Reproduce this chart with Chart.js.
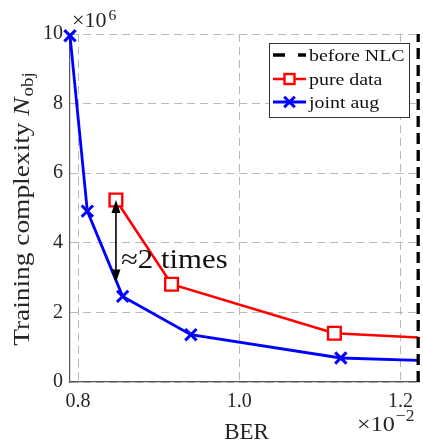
<!DOCTYPE html>
<html>
<head>
<meta charset="utf-8">
<script src="https://cdn.jsdelivr.net/npm/chart.js@4.4.1/dist/chart.umd.min.js"></script>
<style>
  html, body { margin: 0; padding: 0; background: #fff; }
  #wrap { width: 423px; height: 446px; position: relative; }
</style>
</head>
<body>
<div id="wrap"><canvas id="c" width="423" height="446"></canvas></div>
<script>
// BER values (raw) and training complexity (number of objects)
const berJoint = [0.0079, 0.008115, 0.008553, 0.00940, 0.01126, 0.01222];
const nJoint   = [9.95e6, 4.91e6, 2.46e6, 1.36e6, 0.69e6, 0.62e6];
const berPure  = [0.00847, 0.00916, 0.01118, 0.01222];
const nPure    = [5.23e6, 2.81e6, 1.40e6, 1.28e6];
const berBeforeNLC = 0.01222;
const xTicks = [0.008, 0.010, 0.012];
const yTicks = [0, 2e6, 4e6, 6e6, 8e6, 10e6];
const seriesLabels = ['before NLC', 'pure data', 'joint aug'];
// Annotation: gap between the two curves around BER 0.85e-2
const arrowBer = 0.00847;
const arrowFrom = 5.23e6;
const arrowTo = 2.86e6;
const arrowText = '\u22482 times';

const SERIF = '"Liberation Serif", "DejaVu Serif", serif';
const GRID = '#b8b8b8';
const TXT = '#262626';

const toXY = (xs, ys) => xs.map((x, i) => ({ x, y: ys[i] }));

// draw text stretched horizontally so the wide serif look is kept
function wideText(ctx, s, x, y, sx) {
  ctx.save();
  ctx.translate(x, y);
  ctx.scale(sx, 1);
  ctx.fillText(s, 0, 0);
  ctx.restore();
  return ctx.measureText(s).width * sx;
}

const annotate = {
  id: 'annotate',
  afterDatasetsDraw(chart) {
    const { ctx, chartArea: a, scales: { x, y } } = chart;
    ctx.save();
    // double-headed arrow
    const ax = x.getPixelForValue(arrowBer);
    const y1 = y.getPixelForValue(arrowFrom);
    const y2 = y.getPixelForValue(arrowTo);
    const head = 13, hw = 4.5;
    ctx.strokeStyle = '#000'; ctx.fillStyle = '#000'; ctx.lineWidth = 1.6;
    ctx.beginPath(); ctx.moveTo(ax, y1 + head - 2); ctx.lineTo(ax, y2 - head + 2); ctx.stroke();
    ctx.beginPath(); ctx.moveTo(ax, y1); ctx.lineTo(ax - hw, y1 + head); ctx.lineTo(ax + hw, y1 + head); ctx.closePath(); ctx.fill();
    ctx.beginPath(); ctx.moveTo(ax, y2); ctx.lineTo(ax - hw, y2 - head); ctx.lineTo(ax + hw, y2 - head); ctx.closePath(); ctx.fill();
    ctx.fillStyle = '#111';
    ctx.font = '27px ' + SERIF;
    ctx.textAlign = 'left'; ctx.textBaseline = 'alphabetic';
    wideText(ctx, arrowText, ax + 5, (y1 + y2) / 2 + 27, 1.14);

    // legend
    const lx = 269, ly = 43, lw = 140, lh = 74;
    ctx.fillStyle = '#fff';
    ctx.fillRect(lx, ly, lw, lh);
    ctx.strokeStyle = '#333'; ctx.lineWidth = 1;
    ctx.strokeRect(lx + 0.5, ly + 0.5, lw, lh);
    const rows = [55, 79, 102];
    chart.data.datasets.forEach((ds, i) => {
      const ry = rows[i];
      ctx.strokeStyle = ds.borderColor; ctx.lineWidth = ds.borderWidth;
      ctx.setLineDash(i === 0 ? [12, 13] : []);
      ctx.beginPath(); ctx.moveTo(273, ry); ctx.lineTo(306, ry); ctx.stroke();
      ctx.setLineDash([]);
      if (ds.pointStyle === 'rect') {
        ctx.fillStyle = '#fff'; ctx.strokeStyle = ds.borderColor; ctx.lineWidth = ds.pointBorderWidth;
        ctx.fillRect(284.5, ry - 5, 10, 10); ctx.strokeRect(284.5, ry - 5, 10, 10);
      } else if (ds.pointStyle) {
        ctx.strokeStyle = ds.borderColor; ctx.lineWidth = ds.pointBorderWidth;
        Chart.helpers.drawPoint(ctx, { pointStyle: ds.pointStyle, rotation: 0, radius: 7.5, borderWidth: ds.pointBorderWidth }, 289.5, ry);
      }
      ctx.fillStyle = '#111';
      ctx.font = '17px ' + SERIF;
      ctx.textBaseline = 'alphabetic';
      wideText(ctx, ds.label, 309, ry + 5.5, 1.17);
    });

    // axis titles and exponent notes
    ctx.fillStyle = TXT;
    ctx.textBaseline = 'alphabetic';
    ctx.font = '23px ' + SERIF;
    ctx.textAlign = 'center';
    ctx.fillText('BER', 246.5, 439);

    // ×10^-2
    ctx.textAlign = 'left';
    ctx.font = '22px ' + SERIF;
    let sx = 357;
    sx += wideText(ctx, '\u00d710', sx, 431, 1.1);
    ctx.font = '16px ' + SERIF;
    wideText(ctx, '\u22122', sx + 1, 421, 1.1);

    // ×10^6
    ctx.font = '21px ' + SERIF;
    sx = 72;
    sx += wideText(ctx, '\u00d710', sx, 27, 1.05);
    ctx.font = '15px ' + SERIF;
    wideText(ctx, '6', sx + 2, 20, 1.05);

    // y title: Training complexity N_obj
    ctx.translate(29, (a.top + a.bottom) / 2 + 1);
    ctx.rotate(-Math.PI / 2);
    const st = 1.19;
    const p1 = 'Training complexity ', p2 = 'N', p3 = 'obj';
    ctx.font = '23px ' + SERIF; const w1 = ctx.measureText(p1).width * st;
    ctx.font = 'italic 23px ' + SERIF; const w2 = ctx.measureText(p2).width * st;
    ctx.font = '16px ' + SERIF; const w3 = ctx.measureText(p3).width * st;
    let tx = -(w1 + w2 + w3 + 1) / 2;
    ctx.font = '23px ' + SERIF; wideText(ctx, p1, tx, 0, st); tx += w1;
    ctx.font = 'italic 23px ' + SERIF; wideText(ctx, p2, tx, 0, st); tx += w2 + 1;
    ctx.font = '16px ' + SERIF; wideText(ctx, p3, tx, 4, st);
    ctx.restore();
  }
};

new Chart(document.getElementById('c'), {
  type: 'scatter',
  data: {
    datasets: [
      {
        label: seriesLabels[0],
        data: [{ x: berBeforeNLC, y: 0 }, { x: berBeforeNLC, y: 10e6 }],
        showLine: true, borderColor: '#000', borderWidth: 3.3, borderDash: [11, 6],
        pointRadius: 0, pointStyle: false, clip: { left: 0, top: 0, right: 4, bottom: 0 }
      },
      {
        label: seriesLabels[1],
        data: toXY(berPure, nPure),
        showLine: true, borderColor: '#ff0000', borderWidth: 2.6,
        pointStyle: 'rect', pointRadius: [9, 9, 9, 0], pointBorderWidth: 2.4,
        pointBackgroundColor: '#fff', pointBorderColor: '#ff0000',
        clip: { left: 12, top: 12, right: 0, bottom: 0 }
      },
      {
        label: seriesLabels[2],
        data: toXY(berJoint, nJoint),
        showLine: true, borderColor: '#0000ff', borderWidth: 2.8,
        pointStyle: 'crossRot', pointRadius: [8, 8, 8, 8, 8, 0], pointBorderWidth: 3,
        pointBackgroundColor: '#0000ff', pointBorderColor: '#0000ff',
        clip: { left: 12, top: 12, right: 0, bottom: 0 }
      }
    ]
  },
  options: {
    responsive: false, animation: false, events: [],
    layout: { autoPadding: false, padding: { left: 0, top: 34, right: 4, bottom: 0 } },
    plugins: { legend: { display: false }, tooltip: { enabled: false } },
    scales: {
      x: {
        type: 'linear', min: 0.0079, max: 0.01223,
        afterBuildTicks: s => { s.ticks = xTicks.map(v => ({ value: v })); },
        afterFit: s => { s.height = 64; s.paddingLeft = 0; s.paddingRight = 0; },
        ticks: {
          callback: v => (v * 100).toFixed(1),
          font: { family: SERIF, size: 20 }, color: TXT, padding: 0, maxRotation: 0
        },
        grid: { color: GRID, lineWidth: 1, drawTicks: true, tickLength: 8, tickColor: 'rgba(0,0,0,0)' },
        border: { display: true, color: '#555', width: 1.2, dash: [8, 5] }
      },
      y: {
        min: 0, max: 10e6,
        afterBuildTicks: s => { s.ticks = yTicks.map(v => ({ value: v })); },
        afterFit: s => { s.width = 70; s.paddingTop = 0; s.paddingBottom = 0; },
        ticks: {
          callback: v => String(v / 1e6),
          font: { family: SERIF, size: 20 }, color: TXT, padding: 7
        },
        grid: { color: GRID, lineWidth: 1, drawTicks: false },
        border: { display: true, color: '#555', width: 1.2, dash: [8, 5] }
      }
    }
  },
  plugins: [annotate]
});
</script>
</body>
</html>
